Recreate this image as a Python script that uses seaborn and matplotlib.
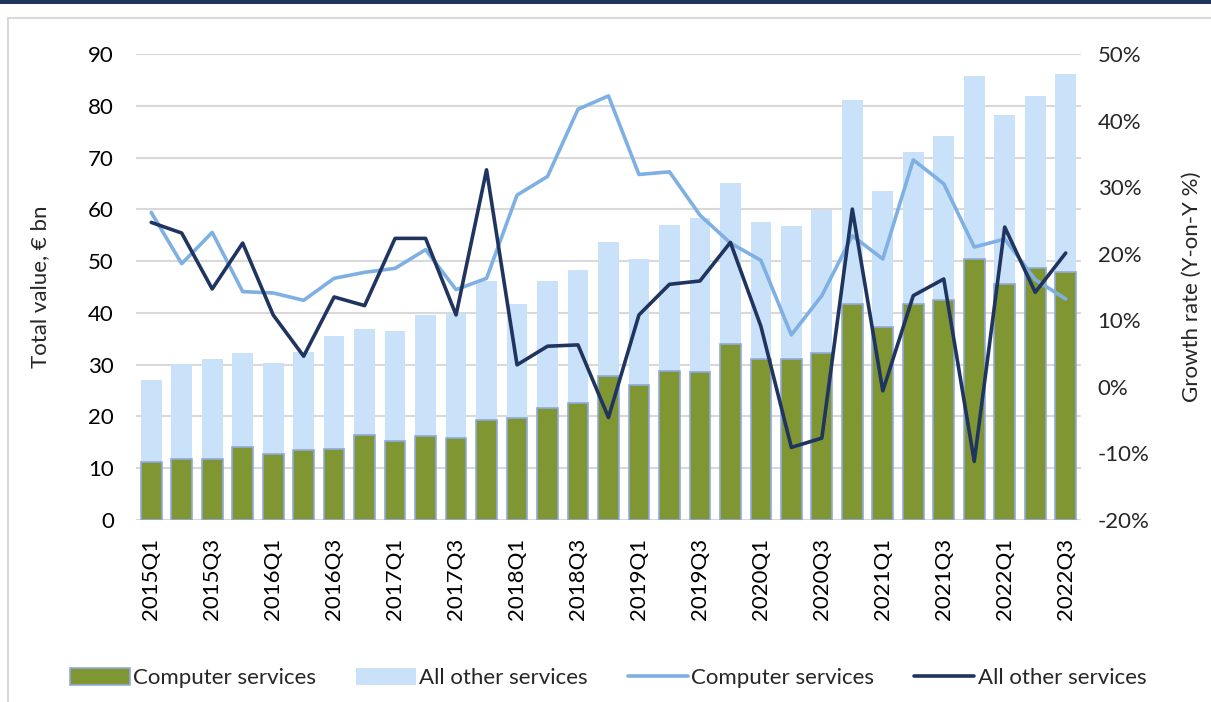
import matplotlib
matplotlib.use("Agg")
import matplotlib.pyplot as plt
from matplotlib.patches import Patch, Rectangle
from matplotlib.lines import Line2D
import matplotlib.ticker as mticker
import seaborn as sns
import pandas as pd
import numpy as np

quarters = [f"{y}Q{q}" for y in range(2015, 2023) for q in range(1, 5)][:31]

# total value of exports, EUR bn (computer services + all other services)
total_value = [27.0, 30.1, 31.1, 32.3, 30.4, 32.4, 35.6, 36.9, 36.5, 39.5, 40.0,
               46.2, 41.7, 46.2, 48.3, 53.6, 50.4, 57.0, 58.3, 65.1, 57.6,
               56.8, 59.9, 81.1, 63.5, 71.0, 74.2, 85.7, 78.2, 81.9, 86.1]
computer_value = [11.1, 11.8, 11.7, 14.0, 12.8, 13.5, 13.8, 16.5, 15.2, 16.3, 15.8,
                  19.3, 19.6, 21.6, 22.5, 27.8, 26.1, 28.8, 28.5, 33.9, 31.1,
                  31.0, 32.3, 41.7, 37.2, 41.8, 42.4, 50.5, 45.6, 48.6, 47.9]

# year-on-year growth rates, %
computer_growth = [26.2, 18.5, 23.2, 14.3, 14.1, 13.0, 16.3, 17.2, 17.8, 20.6, 14.6,
                   16.3, 28.8, 31.6, 41.7, 43.7, 31.9, 32.3, 25.8, 21.6, 19.0,
                   7.8, 13.7, 22.7, 19.2, 34.1, 30.5, 21.0, 22.2, 16.1, 13.2]
other_growth = [24.7, 23.1, 14.7, 21.6, 10.8, 4.6, 13.5, 12.2, 22.3, 22.3, 10.8,
                32.6, 3.3, 6.1, 6.3, -4.6, 10.8, 15.4, 15.9, 21.7, 9.1,
                -9.1, -7.7, 26.7, -0.6, 13.7, 16.2, -11.2, 24.0, 14.2, 20.1]

GREEN = "#7F9633"
PALE = "#C9E2F9"
LIGHT_LINE = "#7EB0E3"
DARK_LINE = "#1F3560"
GRID = "#D9D9D9"
FS = 16

df = pd.DataFrame({
    "quarter": quarters,
    "pos": np.arange(len(quarters)),
    "total": total_value,
    "computer": computer_value,
    "g_comp": computer_growth,
    "g_other": other_growth,
})

sns.set_theme(style="white")
plt.rcParams["font.family"] = ["Lato", "DejaVu Sans"]

fig = plt.figure(figsize=(12.11, 7.02), dpi=100)
ax = fig.add_axes([0.1123, 0.2593, 0.7803, 0.6638])

# outer frame and top band
fig.patches.append(Rectangle((8 / 1211, -0.01), 1.0, (702 - 18) / 702 + 0.01,
                             transform=fig.transFigure, fill=False,
                             edgecolor="#D9D9D9", linewidth=1.5))
fig.patches.append(Rectangle((0, 1 - 3.5 / 702), 1, 3.5 / 702, transform=fig.transFigure,
                             facecolor="#1F3560", edgecolor="none"))

sns.barplot(ax=ax, data=df, x="quarter", y="total", color=PALE, width=0.68,
            saturation=1, edgecolor="none", zorder=2)
sns.barplot(ax=ax, data=df, x="quarter", y="computer", color=GREEN, width=0.68,
            saturation=1, edgecolor="#8FAADC", linewidth=1.2, zorder=3)

ax.set_ylim(0, 90)
ax.set_xlim(-0.5, len(quarters) - 0.5)
ax.set_yticks(range(0, 91, 10))
ax.yaxis.grid(True, color=GRID, linewidth=1.5, zorder=0)
ax.set_axisbelow(True)
for s in ax.spines.values():
    s.set_visible(False)
ax.set_xticks(range(0, len(quarters), 2))
ax.set_xticklabels(quarters[::2], rotation=90)
ax.tick_params(axis="both", labelsize=FS, length=0, colors="black")
ax.tick_params(axis="x", pad=13)
ax.tick_params(axis="y", pad=16)
ax.set_xlabel("")
ax.set_ylabel("Total value, € bn", fontsize=FS, labelpad=27)

ax2 = ax.twinx()
sns.lineplot(ax=ax2, data=df, x="pos", y="g_comp", color=LIGHT_LINE, linewidth=2.6)
sns.lineplot(ax=ax2, data=df, x="pos", y="g_other", color=DARK_LINE, linewidth=2.6)
ax2.set_ylim(-20, 50)
ax2.set_yticks(range(-20, 51, 10))
ax2.yaxis.set_major_formatter(mticker.FuncFormatter(lambda v, p: f"{v:.0f}%"))
ax2.tick_params(axis="y", labelsize=FS, length=0, pad=12)
for s in ax2.spines.values():
    s.set_visible(False)
ax2.set_ylabel("Growth rate (Y-on-Y %)", fontsize=FS, labelpad=23)
ax2.set_xlabel("")
ax2.grid(False)
ax2.set_xlim(-0.5, len(quarters) - 0.5)

handles = [
    Patch(facecolor=GREEN, edgecolor="#8FAADC", linewidth=1.2),
    Patch(facecolor=PALE, edgecolor="none"),
    Line2D([0], [0], color=LIGHT_LINE, linewidth=2.6),
    Line2D([0], [0], color=DARK_LINE, linewidth=2.6),
]
labels = ["Computer services", "All other services", "Computer services", "All other services"]
fig.legend(handles, labels, loc="center", bbox_to_anchor=(0.502, 0.034), ncol=4,
           frameon=False, fontsize=FS, handlelength=2.7, handleheight=0.8,
           handletextpad=0.15, columnspacing=1.8)

fig.savefig("out.png", dpi=100)
